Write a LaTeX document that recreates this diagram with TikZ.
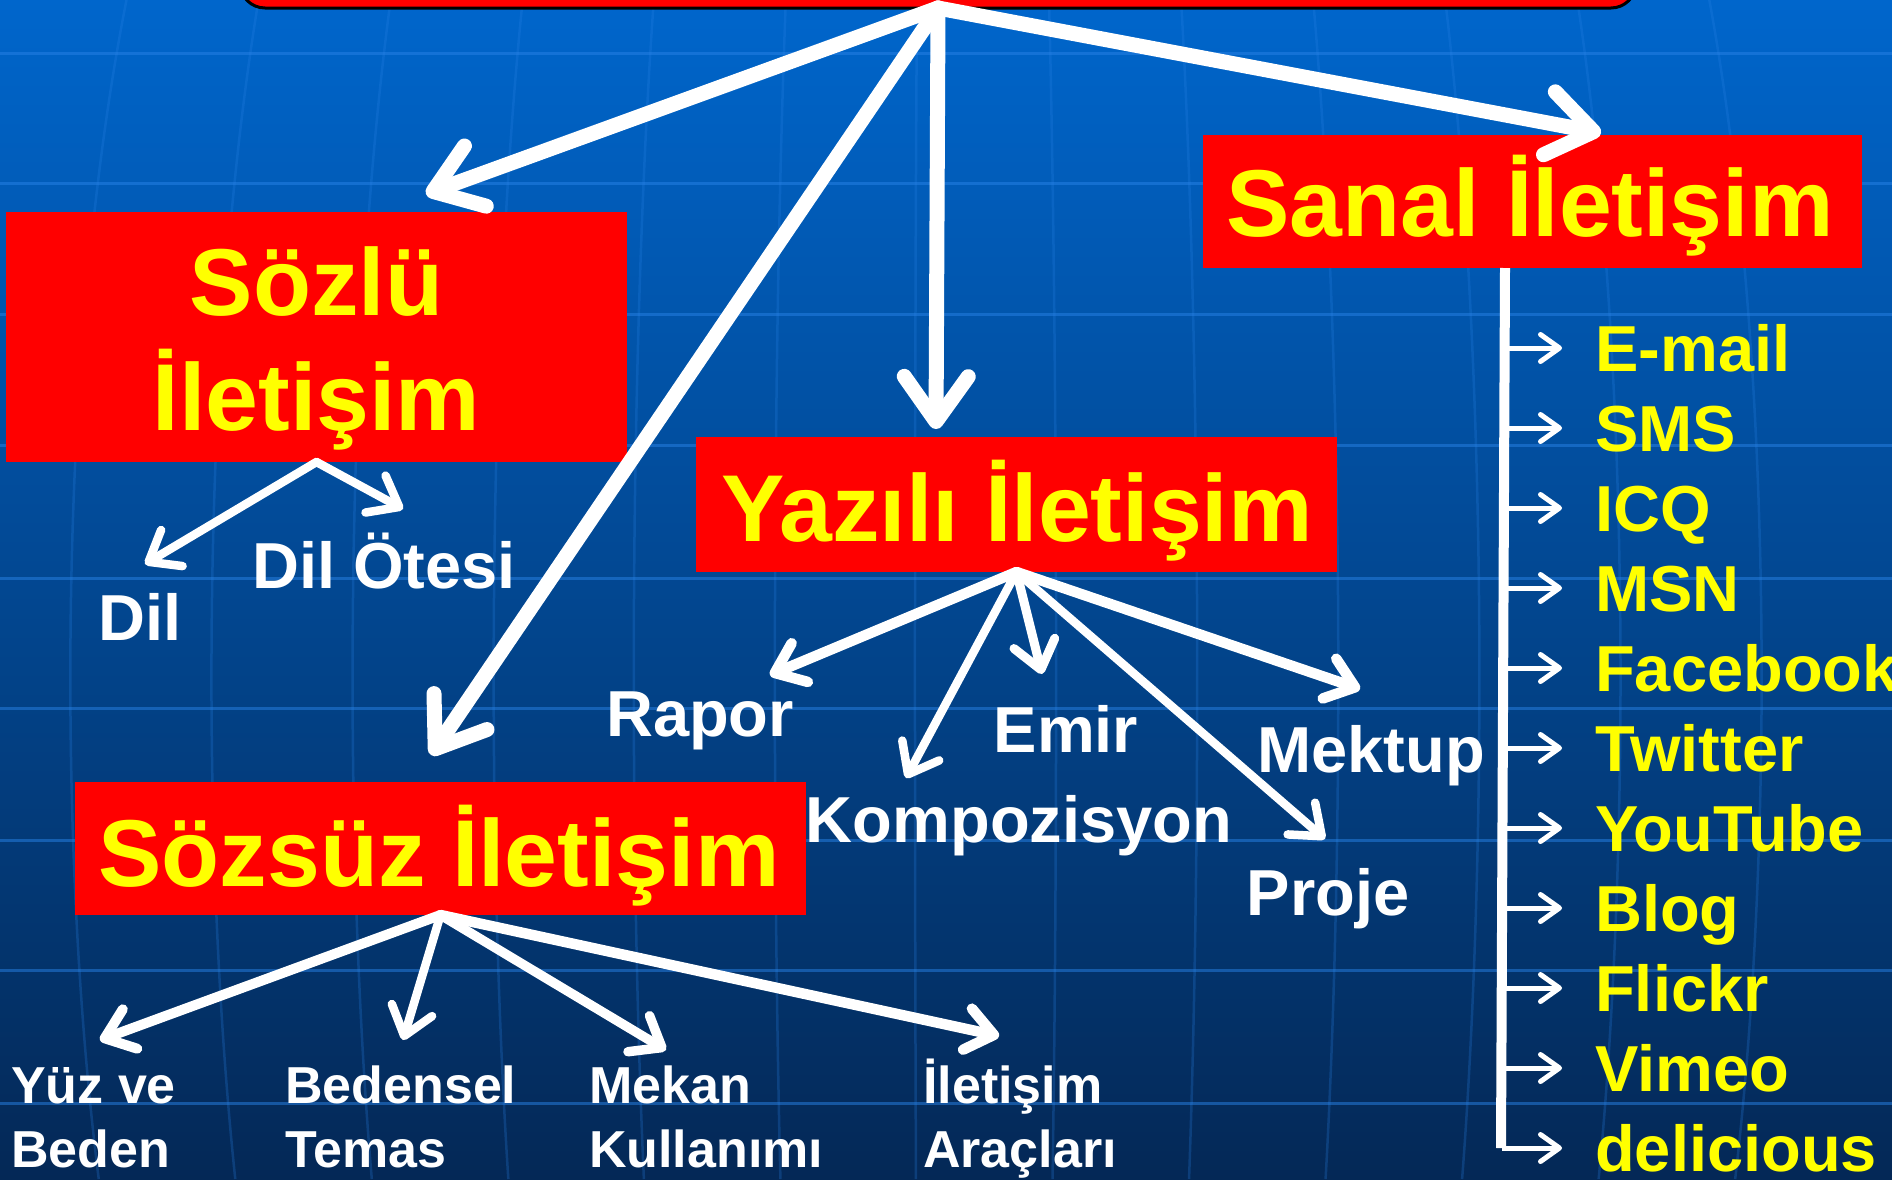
\documentclass[tikz,border=0pt]{standalone}
\usepackage{fontspec}
\setmainfont{Liberation Sans}
\usetikzlibrary{arrows.meta}
\definecolor{bgtop}{RGB}{0,102,204}
\definecolor{bgmid}{RGB}{0,76,154}
\definecolor{bgbot}{RGB}{4,40,86}
\definecolor{gridc}{RGB}{40,130,230}
\definecolor{boxred}{RGB}{255,0,0}
\definecolor{txtyellow}{RGB}{255,255,0}
\begin{document}
\begin{tikzpicture}[x=1pt,y=-1pt,
  box/.style={fill=boxred, inner sep=0pt, outer sep=0pt},
  boxtext/.style={text=txtyellow, font=\bfseries\fontsize{95}{114}\selectfont, inner sep=0pt, text height=68pt, text depth=0pt},
  wlab/.style={text=white, font=\bfseries\fontsize{65}{78}\selectfont, inner sep=0pt},
  slab/.style={text=white, font=\bfseries\fontsize{52}{62}\selectfont, inner sep=0pt},
  ylab/.style={text=txtyellow, font=\bfseries\fontsize{65}{78}\selectfont, inner sep=0pt},
  mainarrow/.style={draw=white, line cap=round, line width=15pt, -{Straight Barb[length=45pt,width=64pt,round]}},
  subarrow/.style={draw=white, line cap=round, -{Straight Barb[length=27pt,width=42pt,round]}},
  smallarrow/.style={draw=white, line width=5pt, -{Straight Barb[length=19pt,width=27pt,round]}},
  gridline/.style={draw=gridc, line width=3pt, opacity=0.5},
  meridian/.style={draw=gridc, line width=2.5pt, opacity=0.25},
]
\useasboundingbox (0,0) rectangle (1892,1179);
\clip (0,0) rectangle (1892,1179);
% background
\shade[top color=bgtop, middle color=bgmid, bottom color=bgbot] (0,0) rectangle (1892,1179);
\foreach \y in {53,183,314,445,578,708,840,970,1103}
  \draw[gridline] (0,\y) -- (1892,\y);
\foreach \x [evaluate=\x as \d using (\x-946)/946] in {71,212,353,494,634,775,915,1056,1197,1338,1479,1620,1761}
  \draw[meridian] (\x-60*\d,0) .. controls (\x+15*\d,350) and (\x+15*\d,850) .. (\x-30*\d,1179);

% root box (mostly off the top edge)
\node[box, draw=black, line width=3pt, rounded corners=25pt, minimum width=1396pt, minimum height=200pt, anchor=south] (root) at (938,8) {};

% level-1 boxes
\node[box, minimum width=621pt, minimum height=250pt] (sozlu) at (316.5,337) {};
\node[boxtext] (sozluA) at (316.5,281) {Sözlü};
\node[boxtext] (sozluB) at (316.5,396) {İletişim};
\node[box, minimum width=659pt, minimum height=133pt] (sanal) at (1532.5,201.5) {};
\node[boxtext] (sanalT) at (1530,202) {Sanal İletişim};
\node[box, minimum width=641pt, minimum height=135pt] (yazili) at (1016.5,504.5) {};
\node[boxtext] (yaziliT) at (1017,507) {Yazılı İletişim};
\node[box, minimum width=731pt, minimum height=133pt] (sozsuz) at (440.5,848.5) {};
\node[boxtext] (sozsuzT) at (439,852) {Sözsüz İletişim};

% main arrows
\coordinate (tSozlu) at (426,194);
\coordinate (tSozsuz) at (431,755);
\coordinate (tYazili) at (936,429);
\coordinate (tSanal) at (1601,133);
\draw[mainarrow] (root.south) -- (tSozlu);
\draw[mainarrow] (root.south) -- (tSozsuz);
\draw[mainarrow] (root.south) -- (tYazili);
\draw[mainarrow] (root.south) -- (tSanal);

% Sözlü children
\node[wlab, anchor=base] (dil) at (140,640) {Dil};
\node[wlab, anchor=base] (dilotesi) at (384,588) {Dil Ötesi};
\coordinate (tDil) at (145,564);
\coordinate (tDilOtesi) at (403,509);
\draw[subarrow, line width=8.5pt] (sozlu.south) -- (tDil);
\draw[subarrow, line width=8.5pt] (sozlu.south) -- (tDilOtesi);

% Yazılı children
\node[wlab, anchor=base] (rapor) at (700,736) {Rapor};
\node[wlab, anchor=base] (emir) at (1066,752) {Emir};
\node[wlab, anchor=base west] (mektup) at (1257,772) {Mektup};
\node[wlab, anchor=base] (kompozisyon) at (1019,842) {Kompozisyon};
\node[wlab, anchor=base] (proje) at (1328,915) {Proje};
\coordinate (tRapor) at (770,675);
\coordinate (tKomp) at (906,778);
\coordinate (tEmir) at (1042,674);
\coordinate (tProje) at (1325,839);
\coordinate (tMektup) at (1360,689);
\draw[subarrow, line width=10.5pt] (yazili.south) -- (tRapor);
\draw[subarrow, line width=8.5pt] (yazili.south) -- (tKomp);
\draw[subarrow, line width=9pt] (yazili.south) -- (tEmir);
\draw[subarrow, line width=8.5pt] (yazili.south) -- (tProje);
\draw[subarrow, line width=10.5pt] (yazili.south) -- (tMektup);

% Sözsüz children
\node[slab, anchor=base west] (yuz) at (11,1103) {Yüz ve};
\node[slab, anchor=base west] (yuzB) at (11,1167) {Beden};
\node[slab, anchor=base west] (bedensel) at (285,1103) {Bedensel};
\node[slab, anchor=base west] (bedenselB) at (285,1167) {Temas};
\node[slab, anchor=base west] (mekan) at (589,1103) {Mekan};
\node[slab, anchor=base west] (mekanB) at (589,1167) {Kullanımı};
\node[slab, anchor=base west] (arac) at (923,1103) {İletişim};
\node[slab, anchor=base west] (aracB) at (923,1167) {Araçları};
\coordinate (tYuz) at (100,1040);
\coordinate (tBedensel) at (403,1040);
\coordinate (tMekan) at (666,1050);
\coordinate (tArac) at (999,1036);
\draw[subarrow, line width=10pt] (sozsuz.south) -- (tYuz);
\draw[subarrow, line width=8.5pt] (sozsuz.south) -- (tBedensel);
\draw[subarrow, line width=9.5pt] (sozsuz.south) -- (tMekan);
\draw[subarrow, line width=10.5pt] (sozsuz.south) -- (tArac);

% Sanal list
\coordinate (trunkTop) at (1505,268);
\coordinate (trunkBot) at (1501,1148);
\draw[white, line width=10pt] (trunkTop) -- (trunkBot);
\foreach \i/\t [evaluate=\i as \yy using 348+80*(\i-1)] in {1/E-mail,2/SMS,3/ICQ,4/MSN,5/Facebook,6/Twitter,7/YouTube,8/Blog,9/Flickr,10/Vimeo,11/delicious}{
  \node[ylab, anchor=base west] (item\i) at (1595,\yy+23) {\t};
  \coordinate (tr\i) at (1502,\yy);
  \draw[smallarrow] (tr\i) -- (1562,\yy);
}
\end{tikzpicture}
\end{document}
